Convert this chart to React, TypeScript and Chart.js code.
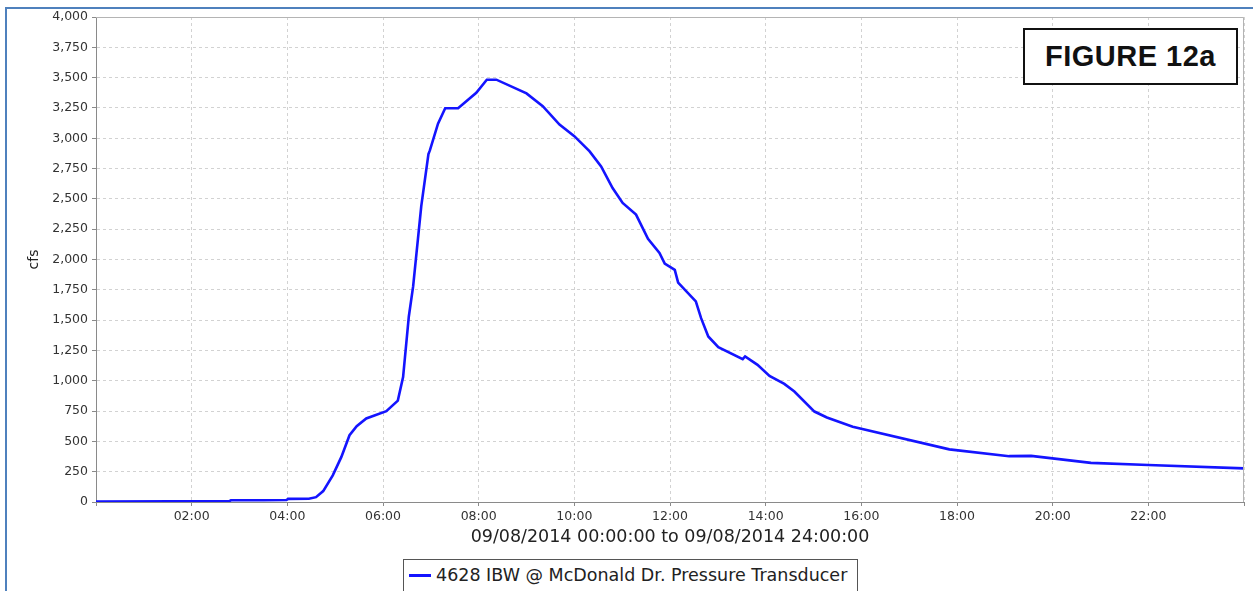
import React, { useEffect, useRef } from "react";
import { Chart, registerables } from "chart.js";

Chart.register(...registerables);

// Time of day in hours (09/08/2014)
const hours = [
  0, 1.6, 2.78, 2.82, 3.5, 3.98, 4.02, 4.45, 4.6, 4.75, 4.95, 5.13, 5.3, 5.45, 5.65,
  6.07, 6.31, 6.42, 6.54, 6.63, 6.8, 6.95, 6.98, 7.15, 7.3, 7.57, 7.95, 8.17, 8.37,
  9.0, 9.34, 9.69, 10.0, 10.32, 10.56, 10.8, 11.01, 11.29, 11.54, 11.78, 11.89, 12.1,
  12.17, 12.54, 12.65, 12.8, 13.01, 13.52, 13.57, 13.83, 14.08, 14.39, 14.6, 15.02,
  15.28, 15.82, 17.84, 19.09, 19.55, 20.8, 22.0, 24.0,
];
// Flow (cfs)
const cfs = [
  3, 5, 5, 14, 14, 16, 26, 27, 40, 90, 220, 372, 551, 625, 689,
  749, 836, 1030, 1530, 1778, 2440, 2870, 2900, 3120, 3248, 3248, 3375, 3483, 3483,
  3370, 3264, 3113, 3017, 2892, 2768, 2589, 2466, 2370, 2170, 2054, 1966, 1915,
  1810, 1654, 1516, 1365, 1277, 1178, 1200, 1131, 1040, 974, 911, 746,
  697, 621, 434, 378, 380, 323, 305, 277,
];

const seriesLabel = "4628 IBW @ McDonald Dr. Pressure Transducer";
const xAxisTitle = "09/08/2014 00:00:00 to 09/08/2014 24:00:00";
const yAxisTitle = "cfs";
const figureLabel = "FIGURE 12a";
const xTickStepHours = 2;
const yMax = 4000;
const yStep = 250;

const frameBorder = {
  id: "frameBorder",
  afterDraw(chart: any) {
    const { ctx, chartArea } = chart;
    ctx.save();
    ctx.strokeStyle = "#b4b4b4";
    ctx.lineWidth = 1;
    ctx.beginPath();
    ctx.moveTo(chartArea.left, chartArea.top + 0.5);
    ctx.lineTo(chartArea.right - 0.5, chartArea.top + 0.5);
    ctx.lineTo(chartArea.right - 0.5, chartArea.bottom);
    ctx.stroke();
    ctx.restore();
  },
};

export default function App() {
  const ref = useRef<HTMLCanvasElement>(null);

  useEffect(() => {
    if (!ref.current) return;
    const pts = hours.map((h, i) => ({ x: h, y: cfs[i] }));
    const tickFont = { family: "DejaVu Sans", size: 12.5 };
    const chart = new Chart(ref.current, {
      type: "line",
      data: {
        datasets: [
          {
            label: seriesLabel,
            data: pts,
            borderColor: "#1414ff",
            backgroundColor: "#1414ff",
            borderWidth: 2.6,
            pointRadius: 0,
            tension: 0,
            fill: false,
          },
        ],
      },
      options: {
        animation: false,
        responsive: false,
        parsing: false as any,
        layout: { padding: { left: 0, top: 17, right: 9, bottom: 29 } },
        plugins: { legend: { display: false }, tooltip: { enabled: false } },
        scales: {
          x: {
            type: "linear",
            min: 0,
            max: 24,
            afterFit(scale: any) {
              scale.height = 60;
              scale.paddingLeft = 0;
              scale.paddingRight = 0;
            },
            ticks: {
              stepSize: xTickStepHours,
              padding: 3,
              color: "#333",
              font: tickFont,
              maxRotation: 0,
              autoSkip: false,
              callback: (v: any) => {
                const n = Number(v);
                if (n <= 0 || n >= 24) return "";
                return String(n).padStart(2, "0") + ":00";
              },
            },
            grid: {
              color: "#d2d2d2",
              tickColor: "#8a8a8a",
              tickLength: 4,
              tickBorderDash: [],
              lineWidth: 1,
            } as any,
            border: { color: "#8a8a8a", width: 1, dash: [3, 3] },
            title: {
              display: true,
              text: xAxisTitle,
              color: "#222",
              font: { family: "DejaVu Sans", size: 17.5 },
              padding: { top: 0, bottom: 14 },
            },
          },
          y: {
            min: 0,
            max: yMax,
            afterFit(scale: any) {
              scale.width = 96;
              scale.paddingTop = 0;
              scale.paddingBottom = 0;
            },
            ticks: {
              stepSize: yStep,
              padding: 4,
              color: "#333",
              font: tickFont,
              autoSkip: false,
              callback: (v: any) => Number(v).toLocaleString("en-US"),
            },
            grid: {
              color: "#d2d2d2",
              tickColor: "#8a8a8a",
              tickLength: 4,
              tickBorderDash: [],
              lineWidth: 1,
            } as any,
            border: { color: "#8a8a8a", width: 1, dash: [3, 3] },
            title: {
              display: true,
              text: yAxisTitle,
              color: "#222",
              font: { family: "DejaVu Sans", size: 14 },
              padding: { top: 26, bottom: 0 },
            },
          },
        },
      },
      plugins: [frameBorder],
    });
    return () => chart.destroy();
  }, []);

  return (
    <div
      style={{
        position: "fixed",
        left: 0,
        top: 0,
        width: 1253,
        height: 591,
        background: "#fff",
        overflow: "hidden",
      }}
    >
      <div
        style={{
          position: "absolute",
          left: 5,
          top: 7,
          width: 1260,
          height: 600,
          borderLeft: "2px solid #4f81bd",
          borderTop: "2px solid #4f81bd",
        }}
      />
      <canvas
        ref={ref}
        width={1253}
        height={591}
        style={{ position: "absolute", left: 0, top: 0, width: 1253, height: 591 }}
      />
      <div
        style={{
          position: "absolute",
          left: 1023,
          top: 28,
          width: 211,
          height: 53,
          border: "2px solid #111",
          background: "#fff",
          fontFamily: "'Liberation Sans', Arial, sans-serif",
          fontWeight: "bold",
          fontSize: 29,
          letterSpacing: 0.5,
          color: "#111",
          display: "flex",
          alignItems: "center",
          justifyContent: "center",
          lineHeight: 1,
        }}
      >
        {figureLabel}
      </div>
      <div
        style={{
          position: "absolute",
          left: 403,
          top: 559,
          width: 453,
          height: 40,
          border: "1px solid #555",
          background: "#fff",
        }}
      >
        <div
          style={{
            position: "absolute",
            left: 5,
            top: 14,
            width: 22,
            height: 3,
            background: "#1414ff",
          }}
        />
        <div
          style={{
            position: "absolute",
            left: 32,
            top: 5,
            fontFamily: "'DejaVu Sans', sans-serif",
            fontSize: 17.5,
            color: "#222",
            whiteSpace: "nowrap",
          }}
        >
          {seriesLabel}
        </div>
      </div>
    </div>
  );
}
